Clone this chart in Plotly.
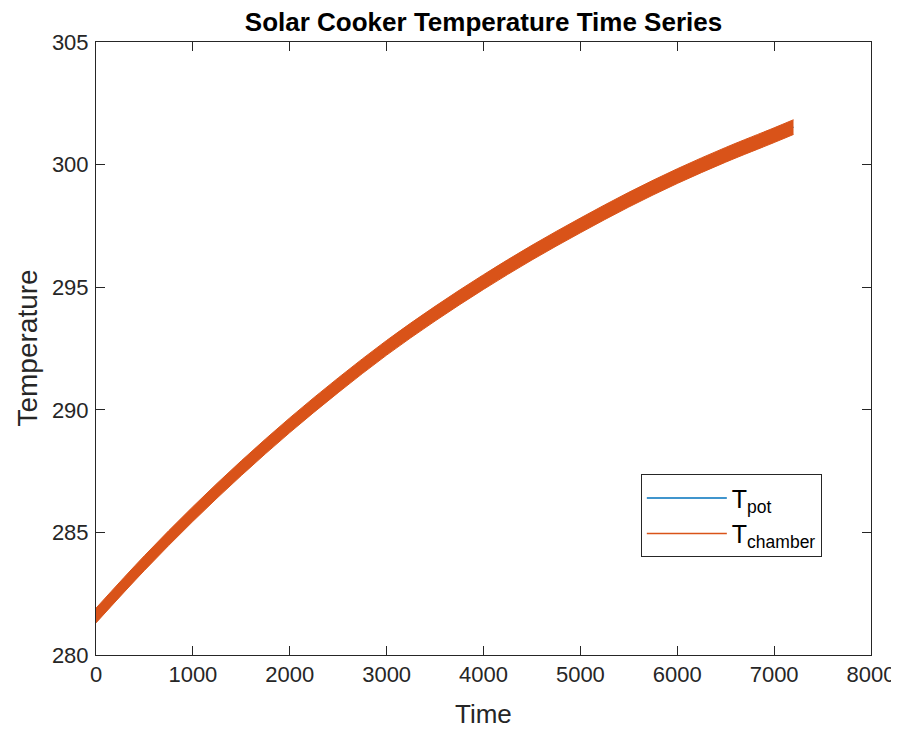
import plotly.graph_objects as go

# Data
time_s = [0, 500, 1000, 1500, 2000, 2500, 3000, 3500, 4000, 4500, 5000, 5500, 6000, 6500, 7000, 7200]
T_pot = [281.61, 283.75, 285.75, 287.62, 289.37, 291.00, 292.53, 293.92, 295.21, 296.41, 297.52, 298.57, 299.53, 300.40, 301.20, 301.53]
# T_chamber oscillates rapidly, appearing as a band around the same curve
T_chamber_low = [281.31, 283.45, 285.45, 287.32, 289.07, 290.70, 292.23, 293.62, 294.91, 296.11, 297.22, 298.27, 299.23, 300.10, 300.90, 301.23]
T_chamber_high = [281.91, 284.05, 286.05, 287.92, 289.67, 291.30, 292.83, 294.22, 295.51, 296.71, 297.82, 298.87, 299.83, 300.70, 301.50, 301.83]

x_ticks = [0, 1000, 2000, 3000, 4000, 5000, 6000, 7000, 8000]
y_ticks = [280, 285, 290, 295, 300, 305]

BLUE = "#0072BD"
ORANGE = "#D95319"
TXT = "#262626"
FONT = "Liberation Sans, Arial, sans-serif"

fig = go.Figure()
fig.add_trace(go.Scatter(x=time_s, y=T_pot, mode="lines", line=dict(color=BLUE, width=1.5),
                         name="T<sub>pot</sub>", showlegend=False, line_shape="spline"))
fig.add_trace(go.Scatter(x=time_s, y=T_chamber_low, mode="lines", line=dict(color=ORANGE, width=1),
                         showlegend=False, line_shape="spline", hoverinfo="skip"))
fig.add_trace(go.Scatter(x=time_s, y=T_chamber_high, mode="lines", line=dict(color=ORANGE, width=1),
                         fill="tonexty", fillcolor=ORANGE, showlegend=False, line_shape="spline"))
# legend entries
fig.add_trace(go.Scatter(x=[None], y=[None], mode="lines", line=dict(color=BLUE, width=1.5),
                         name="T<sub>pot</sub>"))
fig.add_trace(go.Scatter(x=[None], y=[None], mode="lines", line=dict(color=ORANGE, width=1.5),
                         name="T<sub>chamber</sub>"))

axis_common = dict(showgrid=False, zeroline=False, showline=True, linecolor=TXT, linewidth=1,
                   mirror="ticks", ticks="inside", ticklen=9, tickcolor=TXT, tickwidth=1,
                   automargin=False,
                   tickfont=dict(family=FONT, size=22, color=TXT))

fig.update_xaxes(range=[0, 8000], tickvals=x_ticks, ticktext=[str(v) for v in x_ticks],
                 **axis_common)
fig.update_yaxes(range=[280, 305], tickvals=y_ticks, ticktext=[str(v) for v in y_ticks],
                 ticklabelstandoff=2, **axis_common)

fig.add_annotation(text="Time", x=0.5, xref="paper", y=-0.097, yref="paper",
                   showarrow=False, xanchor="center", yanchor="middle",
                   font=dict(family=FONT, size=26, color=TXT))
fig.add_annotation(text="Temperature", x=-0.089, xref="paper", y=0.5, yref="paper",
                   showarrow=False, xanchor="center", yanchor="middle", textangle=-90,
                   font=dict(family=FONT, size=28, color=TXT))

# The page puts the figure 8 px in from the top-left corner; the figure is a bit
# larger than the window (overflow hidden) so the last tick label is not clipped.
fig.update_layout(
    width=899, height=729,
    margin=dict(l=88, r=36, t=34, b=82),
    paper_bgcolor="white", plot_bgcolor="white",
    title=dict(text="<b>Solar Cooker Temperature Time Series</b>", x=0.5, xanchor="center",
               xref="paper", y=1 - 14 / 729, yanchor="middle",
               font=dict(family=FONT, size=26, color="black")),
    legend=dict(x=0.703, y=0.295, xanchor="left", yanchor="top",
                bgcolor="white", bordercolor=TXT, borderwidth=1,
                font=dict(family=FONT, size=25, color="black"),
                itemwidth=80, traceorder="normal", tracegroupgap=0),
    showlegend=True,
)

fig.write_html(
    "out.html",
    post_script="document.documentElement.style.overflow='hidden';document.body.style.overflow='hidden';",
)
